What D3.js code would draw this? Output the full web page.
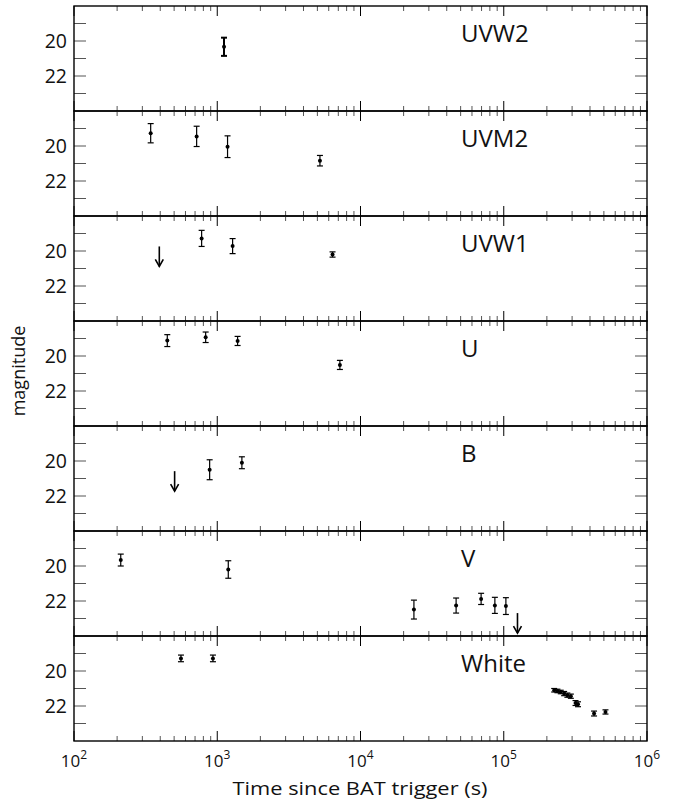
<!DOCTYPE html>
<html><head><meta charset="utf-8">
<script src="https://cdn.jsdelivr.net/npm/d3@7/dist/d3.min.js"></script>
<style>body{margin:0;background:#fff}svg{display:block}text{font-family:"Open Sans","Liberation Sans",Arial,sans-serif;font-weight:400;fill:#111}</style>
</head><body><svg id="c" width="687" height="801"></svg>
<script>
// ---- data ----
const bands = ["UVW2","UVM2","UVW1","U","B","V","White"];
const uvw2_t = [1115], uvw2_m = [20.33], uvw2_e = [0.52];
const uvm2_t = [343, 718, 1180, 5210], uvm2_m = [19.27, 19.45, 20.04, 20.84], uvm2_e = [0.55, 0.58, 0.62, 0.3];
const uvw1_t = [778, 1280, 6380], uvw1_m = [19.28, 19.72, 20.2], uvw1_e = [0.46, 0.43, 0.15];
const u_t = [448, 830, 1387, 7180], u_m = [19.12, 18.93, 19.14, 20.51], u_e = [0.34, 0.3, 0.26, 0.26];
const b_t = [885, 1486], b_m = [20.5, 20.1], b_e = [0.57, 0.34];
const v_t = [212, 1194, 23600, 46500, 69500, 86700, 103500], v_m = [19.66, 20.2, 22.49, 22.26, 21.88, 22.25, 22.29], v_e = [0.34, 0.5, 0.54, 0.43, 0.32, 0.46, 0.48];
const white_t = [558, 933, 225000, 237000, 250000, 264000, 278000, 294000, 317000, 330000, 427000, 513000];
const white_m = [19.28, 19.28, 21.10, 21.14, 21.20, 21.29, 21.38, 21.44, 21.83, 21.90, 22.43, 22.34];
const white_e = [0.19, 0.19, 0.1, 0.1, 0.1, 0.12, 0.12, 0.12, 0.14, 0.14, 0.14, 0.12];
// upper limits
const uvw1_lim_t = [394], uvw1_lim_m = [19.74];
const b_lim_t = [504], b_lim_m = [20.58];
const v_lim_t = [124700], v_lim_m = [22.69];
const yDomain = [18, 24];
const yLabels = [20, 22];
const yMinor = [19, 20, 21, 22, 23];
const xDecades = [2, 3, 4, 5, 6];

const series = {
  UVW2: {t: uvw2_t, m: uvw2_m, e: uvw2_e, lt: [], lm: []},
  UVM2: {t: uvm2_t, m: uvm2_m, e: uvm2_e, lt: [], lm: []},
  UVW1: {t: uvw1_t, m: uvw1_m, e: uvw1_e, lt: uvw1_lim_t, lm: uvw1_lim_m},
  U: {t: u_t, m: u_m, e: u_e, lt: [], lm: []},
  B: {t: b_t, m: b_m, e: b_e, lt: b_lim_t, lm: b_lim_m},
  V: {t: v_t, m: v_m, e: v_e, lt: v_lim_t, lm: v_lim_m},
  White: {t: white_t, m: white_m, e: white_e, lt: [], lm: []}
};

// ---- layout ----
const L = 74, R = 647, T = 6, PH = 105;
const svg = d3.select("#c");
const x = d3.scaleLog().domain([1e2, 1e6]).range([L, R]);

const minorX = [];
for (let k = 2; k < 6; k++) for (let j = 2; j <= 9; j++) minorX.push(j * Math.pow(10, k));
const majorX = xDecades.map(d => Math.pow(10, d));

bands.forEach((b, i) => {
  const top = T + i * PH, bot = top + PH;
  const y = d3.scaleLinear().domain(yDomain).range([top, bot]);
  const g = svg.append("g");
  const s = series[b];
  // ticks
  const tk = g.append("g").attr("stroke", "#555").attr("stroke-width", 1);
  minorX.forEach(v => {
    tk.append("line").attr("x1", x(v)).attr("x2", x(v)).attr("y1", top).attr("y2", top + 5);
    tk.append("line").attr("x1", x(v)).attr("x2", x(v)).attr("y1", bot).attr("y2", bot - 5);
  });
  majorX.forEach(v => {
    tk.append("line").attr("x1", x(v)).attr("x2", x(v)).attr("y1", top).attr("y2", top + 10).attr("stroke", "#000");
    tk.append("line").attr("x1", x(v)).attr("x2", x(v)).attr("y1", bot).attr("y2", bot - 10).attr("stroke", "#000");
  });
  yMinor.forEach(v => {
    tk.append("line").attr("x1", L).attr("x2", L + 12).attr("y1", y(v)).attr("y2", y(v));
    tk.append("line").attr("x1", R).attr("x2", R - 12).attr("y1", y(v)).attr("y2", y(v));
  });
  // frame
  g.append("rect").attr("x", L).attr("y", top).attr("width", R - L).attr("height", PH)
    .attr("fill", "none").attr("stroke", "#000").attr("stroke-width", 1.4);
  // y labels
  yLabels.forEach(v => {
    g.append("text").attr("x", 67).attr("y", y(v) + 7).attr("text-anchor", "end")
      .attr("font-size", 19.5).attr("font-weight", 300).text(v);
  });
  // band label
  g.append("text").attr("x", 461).attr("y", top + 36).attr("font-size", 24)
    .attr("font-weight", 300).text(b);
  // points
  const sw = i === 0 ? 2 : 1.2;
  const pg = g.append("g").attr("stroke", "#000").attr("stroke-width", sw);
  s.t.forEach((t, k) => {
    const px = x(t), y1 = y(s.m[k] - s.e[k]), y2 = y(s.m[k] + s.e[k]);
    pg.append("line").attr("x1", px).attr("x2", px).attr("y1", y1).attr("y2", y2);
    pg.append("line").attr("x1", px - 3).attr("x2", px + 3).attr("y1", y1).attr("y2", y1);
    pg.append("line").attr("x1", px - 3).attr("x2", px + 3).attr("y1", y2).attr("y2", y2);
    g.append("circle").attr("cx", px).attr("cy", y(s.m[k])).attr("r", 2).attr("fill", "#000");
  });
  s.lt.forEach((t, k) => {
    const px = x(t), y1 = y(s.lm[k]), y2 = y1 + 20;
    const ag = g.append("g").attr("stroke", "#000").attr("stroke-width", 1.6).attr("fill", "none");
    ag.append("line").attr("x1", px).attr("x2", px).attr("y1", y1).attr("y2", y2);
    ag.append("path").attr("d", `M${px - 4},${y2 - 7}L${px},${y2}L${px + 4},${y2 - 7}`);
  });
});

// x tick labels
const bottom = T + bands.length * PH;
xDecades.forEach(d => {
  const t = svg.append("text").attr("x", x(Math.pow(10, d))).attr("y", bottom + 26)
    .attr("text-anchor", "middle").attr("font-size", 17).attr("font-weight", 300);
  t.append("tspan").text("10");
  t.append("tspan").attr("dy", -8).attr("font-size", 12).text(d);
});
svg.append("text").attr("x", 360).attr("y", 795).attr("text-anchor", "middle")
  .attr("font-size", 19).attr("textLength", 255).attr("lengthAdjust", "spacingAndGlyphs")
  .text("Time since BAT trigger (s)");
svg.append("text").attr("transform", "translate(25,371) rotate(-90)").attr("text-anchor", "middle")
  .attr("font-size", 18).text("magnitude");
</script></body></html>
